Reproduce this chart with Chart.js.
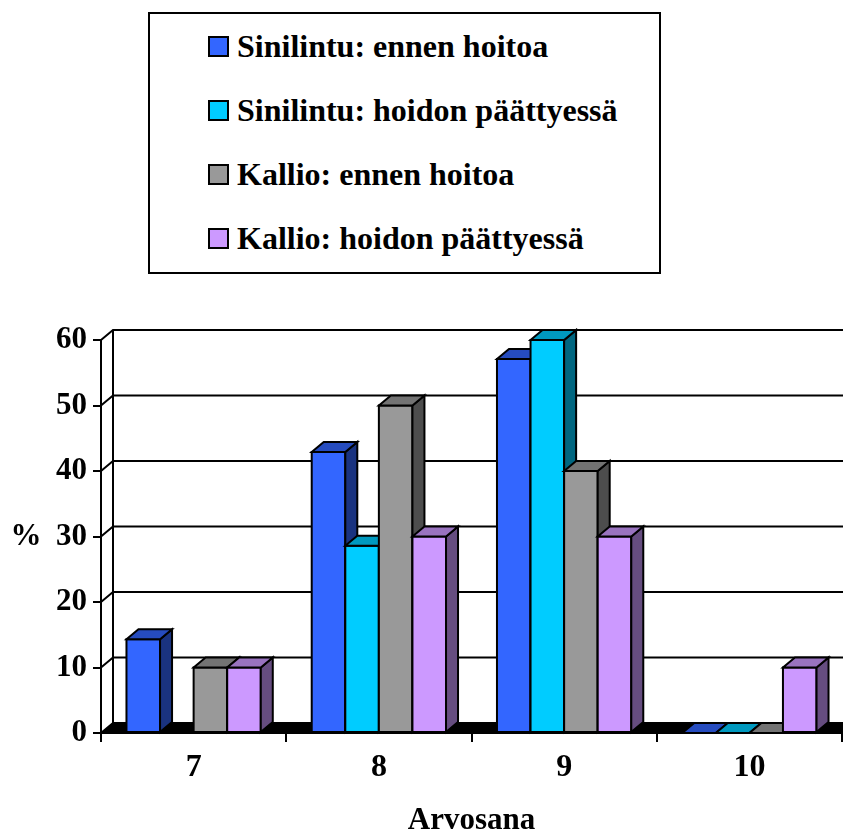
<!DOCTYPE html>
<html>
<head>
<meta charset="utf-8">
<script src="https://cdn.jsdelivr.net/npm/chart.js@4/dist/chart.umd.min.js"></script>
<style>
  html, body { margin: 0; padding: 0; background: #fff; overflow: hidden; }
  #wrap { position: relative; width: 843px; height: 834px; }
  #chart { position: absolute; left: 0; top: 0; }
  #legend {
    position: absolute; left: 148px; top: 12px; width: 509px; height: 258px;
    border: 2px solid #000; background: #fff;
    font-family: 'Liberation Serif', 'Times New Roman', serif; font-weight: bold; font-size: 32px;
  }
  .lg-mark { position: absolute; width: 17px; height: 17px; border: 2px solid #000; }
  .lg-text { position: absolute; line-height: 32px; white-space: nowrap; color: #000; }
</style>
</head>
<body>
<div id="wrap">
  <canvas id="chart" width="843" height="834"></canvas>
  <div id="legend"></div>
</div>
<script>
// ---- data ----
const categories = ['7', '8', '9', '10'];
const seriesNames = [
  'Sinilintu: ennen hoitoa',
  'Sinilintu: hoidon päättyessä',
  'Kallio: ennen hoitoa',
  'Kallio: hoidon päättyessä'
];
const sinilintuEnnen = [14.3, 42.9, 57.1, 0];
const sinilintuHoidon = [null, 28.6, 60, 0];
const kallioEnnen = [10, 50, 40, 0];
const kallioHoidon = [10, 30, 30, 10];
const yMin = 0, yMax = 60, yStep = 10;
const xTitle = 'Arvosana';
const yTitle = '%';

// ---- style ----
const FONT = "'Liberation Serif', 'Times New Roman', serif";
const frontColors = ['#3366FF', '#00CCFF', '#999999', '#CC99FF'];
const topColors   = ['#264CBF', '#0099BF', '#737373', '#9973BF'];
const sideColors  = ['#1A3380', '#006680', '#4D4D4D', '#664D80'];
const DX = 12, DY = 10;

const seriesValues = [sinilintuEnnen, sinilintuHoidon, kallioEnnen, kallioHoidon];

// ---- legend (HTML) ----
const legendEl = document.getElementById('legend');
seriesNames.forEach((name, i) => {
  const top = 22 + i * 64;   // relative to legend box inner
  const m = document.createElement('div');
  m.className = 'lg-mark';
  m.style.left = (208 - 150) + 'px';
  m.style.top = top + 'px';
  m.style.background = frontColors[i];
  legendEl.appendChild(m);
  const t = document.createElement('div');
  t.className = 'lg-text';
  t.style.left = (237 - 150) + 'px';
  t.style.top = (top - 6) + 'px';
  t.textContent = name;
  legendEl.appendChild(t);
});

// ---- 3D plugin ----
const threeD = {
  id: 'threeD',
  beforeDatasetsDraw(chart) {
    const ctx = chart.ctx;
    const y = chart.scales.y;
    const L = chart.chartArea.left, R = chart.chartArea.right;
    const B = y.getPixelForValue(yMin), T = y.getPixelForValue(yMax);
    ctx.save();
    // floor
    ctx.fillStyle = '#000';
    ctx.beginPath();
    ctx.moveTo(L, B); ctx.lineTo(R, B); ctx.lineTo(R + DX, B - DY); ctx.lineTo(L + DX, B - DY);
    ctx.closePath(); ctx.fill();
    ctx.strokeStyle = '#000'; ctx.lineWidth = 2;
    // back wall vertical line
    ctx.beginPath(); ctx.moveTo(L + DX, B - DY); ctx.lineTo(L + DX, T - DY); ctx.stroke();
    // gridlines + left wall diagonals
    for (let v = yMin; v <= yMax; v += yStep) {
      const py = y.getPixelForValue(v);
      ctx.beginPath();
      ctx.moveTo(L, py); ctx.lineTo(L + DX, py - DY);
      ctx.lineTo(R + DX + 20, py - DY);
      ctx.stroke();
    }
    ctx.restore();
  },
  afterDatasetsDraw(chart) {
    const ctx = chart.ctx;
    ctx.save();
    ctx.strokeStyle = '#000';
    ctx.lineWidth = 2;
    ctx.lineJoin = 'miter';
    const n = categories.length;
    for (let i = 0; i < n; i++) {
      for (let d = 0; d < seriesValues.length; d++) {
        const val = seriesValues[d][i];
        if (val === null || val === undefined) continue;
        const el = chart.getDatasetMeta(d).data[i];
        if (!el) continue;
        const l = el.x - el.width / 2, r = el.x + el.width / 2;
        const t = el.y, b = el.base;
        // front
        ctx.fillStyle = frontColors[d];
        ctx.beginPath(); ctx.rect(l, t, r - l, b - t); ctx.fill();
        if (b - t > 0.5) ctx.stroke();
        // side
        ctx.fillStyle = sideColors[d];
        ctx.beginPath();
        ctx.moveTo(r, t); ctx.lineTo(r + DX, t - DY); ctx.lineTo(r + DX, b - DY); ctx.lineTo(r, b);
        ctx.closePath(); ctx.fill(); ctx.stroke();
        // top
        ctx.fillStyle = topColors[d];
        ctx.beginPath();
        ctx.moveTo(l, t); ctx.lineTo(l + DX, t - DY); ctx.lineTo(r + DX, t - DY); ctx.lineTo(r, t);
        ctx.closePath(); ctx.fill(); ctx.stroke();
      }
    }
    // "%" label
    const ys = chart.scales.y;
    ctx.fillStyle = '#000';
    ctx.font = 'bold 31px ' + FONT;
    ctx.textAlign = 'center';
    ctx.textBaseline = 'middle';
    ctx.fillText(yTitle, 26, (ys.top + ys.bottom) / 2);
    ctx.restore();
  }
};

new Chart(document.getElementById('chart'), {
  type: 'bar',
  data: {
    labels: categories,
    datasets: seriesValues.map((vals, d) => ({
      label: seriesNames[d],
      data: vals,
      backgroundColor: frontColors[d],
      borderColor: '#000',
      borderWidth: 0,
      categoryPercentage: 0.725,
      barPercentage: 1.0
    }))
  },
  options: {
    responsive: false,
    animation: false,
    devicePixelRatio: 1,
    layout: { padding: { top: 340, right: 1, left: 0, bottom: 0 } },
    plugins: { legend: { display: false }, tooltip: { enabled: false } },
    scales: {
      x: {
        afterFit(s) { s.height = 101; },
        grid: { offset: true, drawOnChartArea: false, drawTicks: true, tickLength: 9, color: '#000', lineWidth: 2 },
        border: { display: true, color: '#000', width: 2 },
        ticks: { color: '#000', padding: 7, font: { family: FONT, size: 32, weight: 'bold', lineHeight: 1.2 } },
        title: { display: true, text: xTitle, color: '#000', padding: { top: 0, bottom: 0 }, font: { family: FONT, size: 31, weight: 'bold', lineHeight: 0.85 } }
      },
      y: {
        min: yMin, max: yMax,
        afterFit(s) { s.width = 101; },
        grid: { drawOnChartArea: false, drawTicks: true, tickLength: 8, color: '#000', lineWidth: 2 },
        border: { display: true, color: '#000', width: 2 },
        ticks: { stepSize: yStep, color: '#000', padding: 6, font: { family: FONT, size: 31, weight: 'bold' } }
      }
    }
  },
  plugins: [threeD]
});
</script>
</body>
</html>
